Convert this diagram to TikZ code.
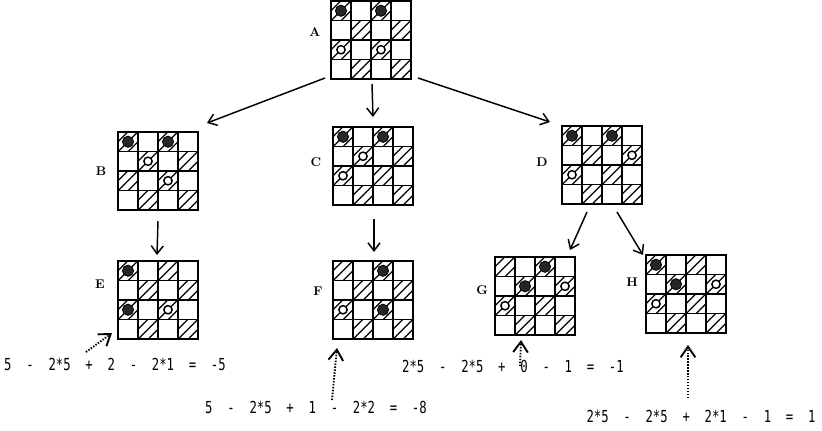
\documentclass[tikz,border=0pt]{standalone}
\usepackage{fontspec}
\setmonofont{DejaVu Sans Mono}
\usepackage{graphicx}
\usetikzlibrary{arrows.meta}
\tikzset{
  gridline/.style={line width=1.3pt},
  hatchline/.style={line width=1pt},
  bpiece/.style={fill=black!85, draw=black, line width=0.6pt},
  wpiece/.style={fill=white, draw=black, line width=1.1pt},
  boardnode/.style={minimum width=60pt, minimum height=58.5pt, inner sep=0pt, outer sep=0pt},
  lbl/.style={font=\fontsize{9.5}{11}\selectfont\bfseries, inner sep=0pt},
  eq/.style={font=\ttfamily\fontsize{9.2}{11}\selectfont, inner sep=0pt},
  move/.style={-{Straight Barb[length=6pt,width=9pt]}, line width=1.1pt},
  evalarrow/.style={-{Straight Barb[length=8pt,width=11pt]}, line width=1.4pt, dash pattern=on 1.1pt off 1.1pt},
}
\newcommand\drawboard[5]{%
 \begin{scope}[shift={(#2,#3)}]
  \foreach \r in {0,...,3}{\foreach \c in {0,...,3}{%
    \pgfmathtruncatemacro\pp{mod(\r+\c,2)}%
    \ifnum\pp=0
      \begin{scope}
        \clip (\c*20,\r*19.5) rectangle ++(20,19.5);
        \foreach \d in {-10,0,10}{\draw[hatchline] (\c*20+\d,\r*19.5+19.75) -- ++(21,-21);}
      \end{scope}
    \fi}}
  \draw[gridline] (0,0) rectangle (80,78);
  \foreach \i in {1,2,3}{
    \draw[gridline] (\i*20,0) -- (\i*20,78);
    \draw[gridline] (0,\i*19.5) -- (80,\i*19.5);}
  \foreach \r/\c in {#4}{\draw[bpiece] (\c*20+10,\r*19.5+9.75) circle[radius=4.2pt];}
  \foreach \r/\c in {#5}{\draw[wpiece] (\c*20+10,\r*19.5+9.75) circle[radius=3.1pt];}
  \node[boardnode] (#1) at (40,39) {};
 \end{scope}}
\begin{document}
\begin{tikzpicture}[x=0.75pt,y=-0.75pt]
\useasboundingbox (0,0) rectangle (822,430);
% boards
\drawboard{A}{331}{1}{0/0,0/2}{2/0,2/2}
\drawboard{B}{118}{132}{0/0,0/2}{1/1,2/2}
\drawboard{C}{333}{127}{0/0,0/2}{1/1,2/0}
\drawboard{D}{562}{126}{0/0,0/2}{1/3,2/0}
\drawboard{E}{118}{261}{0/0,2/0}{2/2}
\drawboard{F}{333}{261}{0/2,2/2}{2/0}
\drawboard{G}{495}{257}{0/2,1/1}{1/3,2/0}
\drawboard{H}{646}{255}{0/0,1/1}{1/3,2/0}
% labels
\node[lbl] (LA) at (315,32) {A};
\node[lbl] (LB) at (101,171) {B};
\node[lbl] (LC) at (316,162) {C};
\node[lbl] (LD) at (542,162) {D};
\node[lbl] (LE) at (100,284) {E};
\node[lbl] (LF) at (318,291) {F};
\node[lbl] (LG) at (482,290) {G};
\node[lbl] (LH) at (632,282) {H};
% move arrows
\draw[move] ([shift={(-6,-1)}]A.south west) -- ([shift={(9,-9)}]B.north east);
\draw[move] ([shift={(1,5)}]A.south) -- ([shift={(0,-10)}]C.north);
\draw[move] ([shift={(7,-1)}]A.south east) -- ([shift={(-12,-4)}]D.north west);
\draw[move] ([shift={(0,11)}]B.south) -- ([shift={(-1,-6)}]E.north);
\draw[move] ([shift={(1,14)}]C.south) -- ([shift={(1,-9)}]F.north);
\draw[move] ([shift={(-15,8)}]D.south) -- ([shift={(-5,-7)}]G.north east);
\draw[move] ([shift={(15,8)}]D.south) -- ([shift={(-3,0)}]H.north west);
% evaluations
\node[eq] (TE) at (115,364) {\scalebox{1}[1.35]{5~~-~~2*5~~+~~2~~-~~2*1~~=~~-5}};
\node[eq] (TF) at (316,407) {\scalebox{1}[1.35]{5~~-~~2*5~~+~~1~~-~~2*2~~=~~-8}};
\node[eq] (TG) at (513,366) {\scalebox{1}[1.35]{2*5~~-~~2*5~~+~~0~~-~~1~~=~~-1}};
\node[eq] (TH) at (701,416) {\scalebox{1}[1.35]{2*5~~-~~2*5~~+~~2*1~~-~~1~~=~~1}};
\coordinate (tE) at (86,352);
\coordinate (tF) at (332,400);
\coordinate (tG) at (520,366);
\coordinate (tH) at (688,398);
\draw[evalarrow] (tE) -- ([shift={(-6,-6)}]E.south west);
\draw[evalarrow] (tF) -- ([shift={(4,9)}]F.south west);
\draw[evalarrow] (tG) -- ([shift={(-14,5)}]G.south);
\draw[evalarrow] (tH) -- ([shift={(2,12)}]H.south);
\end{tikzpicture}
\end{document}
